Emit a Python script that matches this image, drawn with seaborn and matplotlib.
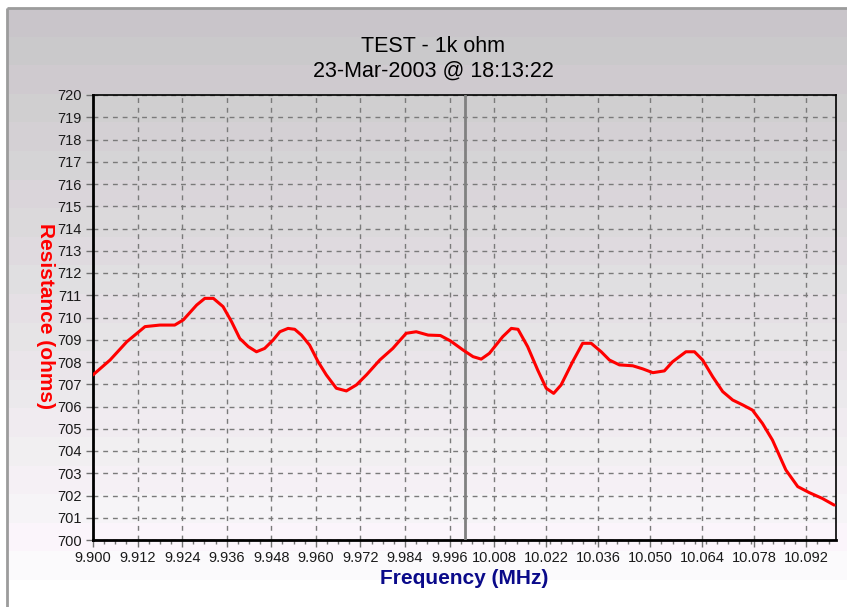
import numpy as np
import pandas as pd
import matplotlib
matplotlib.use("Agg")
import matplotlib.pyplot as plt
import seaborn as sns
from matplotlib.ticker import FixedLocator, MultipleLocator

# ---------------- data ----------------
freq_mhz = [9.9000, 9.9046, 9.9091, 9.9140, 9.9180, 9.9220, 9.9243, 9.9279, 9.9301,
            9.9324, 9.9350, 9.9373, 9.9395, 9.9418, 9.9440, 9.9462, 9.9485, 9.9503,
            9.9525, 9.9543, 9.9561, 9.9583, 9.9606, 9.9628, 9.9655, 9.9682, 9.9709,
            9.9736, 9.9772, 9.9807, 9.9843, 9.9870, 9.9902, 9.9935, 9.9962, 9.9996,
            10.0023, 10.0045, 10.0067, 10.0103, 10.0126, 10.0144, 10.0170, 10.0197,
            10.0220, 10.0240, 10.0260, 10.0291, 10.0318, 10.0341, 10.0368, 10.0390,
            10.0417, 10.0453, 10.0480, 10.0507, 10.0538, 10.0560, 10.0596, 10.0619,
            10.0641, 10.0668, 10.0695, 10.0722, 10.0749, 10.0775, 10.0802, 10.0829,
            10.0865, 10.0897, 10.0928, 10.0963, 10.0995]
resistance_ohms = [707.42, 708.09, 708.91, 709.59, 709.66, 709.66, 709.89, 710.56, 710.86,
                   710.86, 710.49, 709.81, 709.06, 708.69, 708.46, 708.61, 708.99, 709.36,
                   709.51, 709.47, 709.21, 708.76, 708.01, 707.42, 706.82, 706.70, 706.97,
                   707.42, 708.09, 708.61, 709.29, 709.36, 709.21, 709.19, 708.95, 708.54,
                   708.24, 708.13, 708.39, 709.14, 709.51, 709.47, 708.69, 707.64,
                   706.82, 706.59, 706.97, 708.01, 708.84, 708.84, 708.46, 708.09,
                   707.87, 707.83, 707.69, 707.52, 707.60, 708.01, 708.46, 708.46,
                   708.09, 707.34, 706.67, 706.29, 706.07, 705.84, 705.24, 704.49,
                   703.15, 702.40, 702.13, 701.87, 701.57]

x_tick_values = [9.900, 9.912, 9.924, 9.936, 9.948, 9.960, 9.972, 9.984, 9.996,
                 10.008, 10.022, 10.036, 10.050, 10.064, 10.078, 10.092]
x_tick_labels = ["9.900", "9.912", "9.924", "9.936", "9.948", "9.960", "9.972", "9.984",
                 "9.996", "10.008", "10.022", "10.036", "10.050", "10.064", "10.078", "10.092"]
y_tick_values = list(range(700, 721))
marker_freq = 10.000
title_line1 = "TEST - 1k ohm"
title_line2 = "23-Mar-2003 @ 18:13:22"
x_label = "Frequency (MHz)"
y_label = "Resistance (ohms)"

# ---------------- style ----------------
sns.set_theme(style="white")
plt.rcParams['font.family'] = ['Liberation Sans', 'DejaVu Sans']

W, H = 847, 607
fig = plt.figure(figsize=(W / 100, H / 100), dpi=100)
fig.patch.set_facecolor('white')

# background panel with banded gradient
bg = fig.add_axes([0, 0, 1, 1], zorder=0)
n_bands = 20
top_c = np.array([201, 198, 201]) / 255.0
bot_c = np.array([253, 249, 253]) / 255.0
img = np.zeros((n_bands, 1, 3))
for i in range(n_bands):
    t = i / (n_bands - 1)
    c = top_c * (1 - t) + bot_c * t
    if i % 2 == 1:
        c = c + np.array([-0.004, 0.004, -0.001])
    else:
        c = c + np.array([0.003, -0.002, 0.004])
    img[i, 0, :] = np.clip(c, 0, 1)
bg.imshow(img, extent=[7, W, 580, 8], aspect='auto', interpolation='nearest')
bg.plot([7, 7], [8, H], color='#9c9c9c', lw=2, solid_capstyle='butt')
bg.plot([7, W], [8, 8], color='#9c9c9c', lw=2, solid_capstyle='butt')
bg.set_xlim(0, W)
bg.set_ylim(H, 0)
bg.axis('off')

# main axes
left, right, top, bottom = 93, 836, 95, 540
ax = fig.add_axes([left / W, 1 - bottom / H, (right - left) / W, (bottom - top) / H], zorder=1)
ax.patch.set_alpha(0)

df = pd.DataFrame({"freq": freq_mhz, "res": resistance_ohms})
sns.lineplot(data=df, x="freq", y="res", color="#ff0000", lw=2.2, ax=ax, zorder=4)

ax.axvline(marker_freq, color='#808080', lw=2, zorder=3)

ax.set_xlim(9.900, 10.100)
ax.set_ylim(700, 720)
ax.xaxis.set_major_locator(FixedLocator(x_tick_values))
ax.set_xticklabels(x_tick_labels)
ax.xaxis.set_minor_locator(MultipleLocator(0.003))
ax.yaxis.set_major_locator(FixedLocator(y_tick_values))
ax.set_yticklabels([str(v) for v in y_tick_values])

ax.grid(True, which='major', linestyle=(0, (3.5, 3.5)), color='#7a7a7a', lw=1, zorder=1)
ax.tick_params(axis='both', which='major', direction='out', length=5, width=1,
               color='#707070', labelsize=10.5, labelcolor='#1a1a1a', pad=3,
               bottom=True, left=True)
ax.tick_params(axis='x', which='minor', direction='out', length=3, width=1,
               color='#707070', bottom=True)

for side in ['left', 'bottom']:
    ax.spines[side].set_linewidth(2)
    ax.spines[side].set_color('black')
for side in ['top', 'right']:
    ax.spines[side].set_linewidth(1.2)
    ax.spines[side].set_color('black')
    ax.spines[side].set_visible(True)

ax.set_xlabel("")
ax.set_ylabel("")

# titles and axis labels
fig.text(433 / W, 1 - 47 / H, title_line1, ha='center', va='center', fontsize=15.5,
         color='black')
fig.text(433 / W, 1 - 71 / H, title_line2, ha='center', va='center', fontsize=15.5,
         color='black')
fig.text(464 / W, 1 - 578 / H, x_label, ha='center', va='center', fontsize=15,
         color='#0a0a8a', fontweight='bold')
fig.text(45 / W, 1 - 316 / H, y_label, ha='center', va='center', fontsize=15,
         color='#ff0000', fontweight='bold', rotation=270)

fig.savefig("out.png", dpi=100)
